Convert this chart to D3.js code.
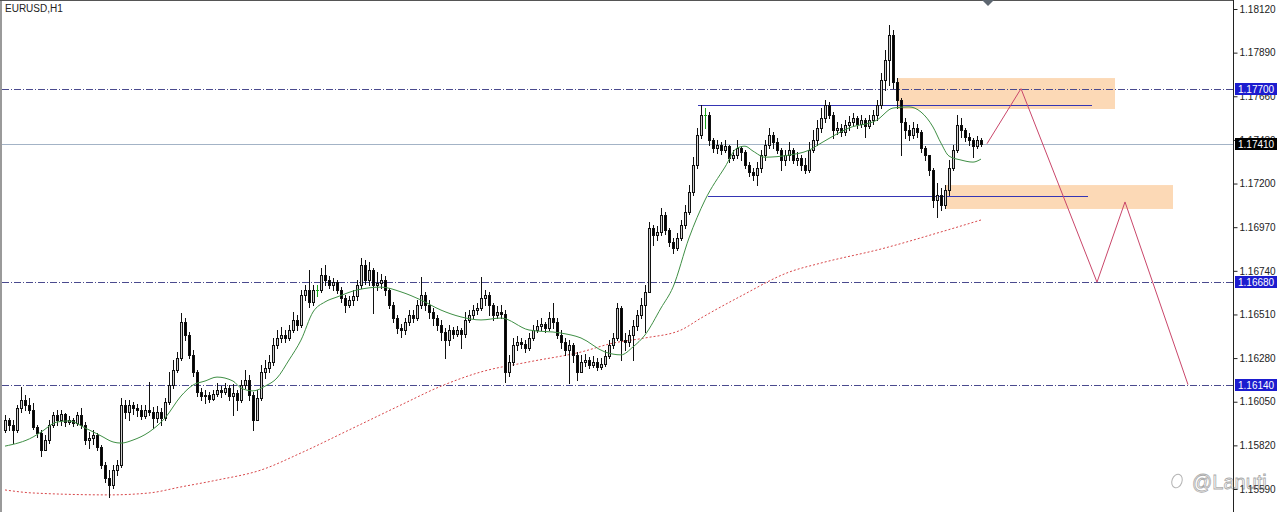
<!DOCTYPE html>
<html>
<head>
<meta charset="utf-8">
<script src="https://cdn.jsdelivr.net/npm/d3@7"></script>
<style>
  body { margin: 0; background: #fff; }
  svg { display: block; font-family: "Liberation Sans", Arial, sans-serif; }
</style>
</head>
<body>
<div id="chart"></div>
<script>
// EURUSD H1 candles, open of each bar = close of the previous one
const firstOpen = 1.15901;

const closes = [
  1.15954, 1.15928, 1.15901, 1.16017, 1.16059, 1.16033, 1.16006, 1.15917, 1.15885, 1.15796,
  1.15848, 1.15928, 1.15980, 1.15954, 1.15985, 1.15943, 1.15954, 1.15938, 1.15980, 1.15928,
  1.15848, 1.15859, 1.15875, 1.15811, 1.15717, 1.15648, 1.15611, 1.15690, 1.15717, 1.16033,
  1.15996, 1.16033, 1.16017, 1.16006, 1.15974, 1.16006, 1.15996, 1.15964, 1.15996, 1.15964,
  1.16048, 1.16138, 1.16217, 1.16281, 1.16470, 1.16402, 1.16297, 1.16207, 1.16101, 1.16080,
  1.16086, 1.16065, 1.16091, 1.16112, 1.16101, 1.16122, 1.16080, 1.16096, 1.16059, 1.16138,
  1.16164, 1.16086, 1.15954, 1.16070, 1.16207, 1.16228, 1.16260, 1.16349, 1.16386, 1.16402,
  1.16386, 1.16428, 1.16481, 1.16455, 1.16613, 1.16639, 1.16576, 1.16639, 1.16639, 1.16718,
  1.16691, 1.16665, 1.16681, 1.16639, 1.16597, 1.16560, 1.16586, 1.16607, 1.16665, 1.16771,
  1.16691, 1.16744, 1.16665, 1.16675, 1.16691, 1.16639, 1.16560, 1.16491, 1.16439, 1.16428,
  1.16470, 1.16507, 1.16491, 1.16560, 1.16613, 1.16560, 1.16523, 1.16491, 1.16455, 1.16417,
  1.16375, 1.16428, 1.16407, 1.16428, 1.16407, 1.16481, 1.16507, 1.16533, 1.16544, 1.16597,
  1.16613, 1.16560, 1.16507, 1.16523, 1.16512, 1.16207, 1.16260, 1.16349, 1.16365, 1.16354,
  1.16333, 1.16386, 1.16428, 1.16449, 1.16460, 1.16439, 1.16491, 1.16470, 1.16402, 1.16365,
  1.16323, 1.16349, 1.16297, 1.16207, 1.16260, 1.16270, 1.16244, 1.16260, 1.16233, 1.16249,
  1.16291, 1.16349, 1.16386, 1.16544, 1.16375, 1.16365, 1.16402, 1.16449, 1.16507, 1.16560,
  1.16629, 1.16966, 1.16929, 1.16944, 1.17034, 1.16955, 1.16892, 1.16860, 1.16913, 1.16982,
  1.17050, 1.17155, 1.17297, 1.17455, 1.17561, 1.17561, 1.17429, 1.17387, 1.17403, 1.17376,
  1.17397, 1.17334, 1.17350, 1.17387, 1.17366, 1.17297, 1.17260, 1.17245, 1.17282, 1.17350,
  1.17403, 1.17455, 1.17418, 1.17376, 1.17324, 1.17350, 1.17376, 1.17324, 1.17334, 1.17297,
  1.17271, 1.17376, 1.17429, 1.17493, 1.17545, 1.17614, 1.17561, 1.17482, 1.17493, 1.17472,
  1.17508, 1.17524, 1.17545, 1.17514, 1.17535, 1.17503, 1.17535, 1.17561, 1.17614, 1.17745,
  1.17851, 1.17983, 1.17735, 1.17640, 1.17524, 1.17482, 1.17455, 1.17493, 1.17472, 1.17387,
  1.17350, 1.17271, 1.17113, 1.17139, 1.17087, 1.17166, 1.17282, 1.17376, 1.17508, 1.17482,
  1.17445, 1.17429, 1.17397, 1.17429, 1.17410
];

const highs = [
  1.15980, 1.15964, 1.15954, 1.16033, 1.16127, 1.16086, 1.16070, 1.16043, 1.15928, 1.15901,
  1.15875, 1.15954, 1.15996, 1.16006, 1.16006, 1.15990, 1.15974, 1.15964, 1.15996, 1.16017,
  1.15943, 1.15890, 1.15901, 1.15885, 1.15822, 1.15732, 1.15690, 1.15717, 1.15743, 1.16070,
  1.16059, 1.16059, 1.16048, 1.16038, 1.16033, 1.16033, 1.16154, 1.16022, 1.16027, 1.16017,
  1.16070, 1.16207, 1.16270, 1.16312, 1.16517, 1.16491, 1.16417, 1.16323, 1.16217, 1.16122,
  1.16112, 1.16101, 1.16112, 1.16148, 1.16132, 1.16148, 1.16138, 1.16143, 1.16112, 1.16164,
  1.16217, 1.16191, 1.16101, 1.16112, 1.16244, 1.16270, 1.16297, 1.16386, 1.16428, 1.16444,
  1.16428, 1.16455, 1.16523, 1.16507, 1.16639, 1.16665, 1.16744, 1.16665, 1.16665, 1.16755,
  1.16771, 1.16712, 1.16702, 1.16691, 1.16654, 1.16613, 1.16607, 1.16639, 1.16691, 1.16808,
  1.16797, 1.16786, 1.16755, 1.16733, 1.16723, 1.16712, 1.16649, 1.16576, 1.16507, 1.16460,
  1.16491, 1.16533, 1.16533, 1.16586, 1.16707, 1.16629, 1.16586, 1.16544, 1.16507, 1.16481,
  1.16439, 1.16455, 1.16444, 1.16449, 1.16439, 1.16523, 1.16533, 1.16560, 1.16570, 1.16707,
  1.16639, 1.16629, 1.16570, 1.16554, 1.16560, 1.16533, 1.16297, 1.16386, 1.16396, 1.16386,
  1.16375, 1.16412, 1.16455, 1.16481, 1.16491, 1.16470, 1.16523, 1.16570, 1.16491, 1.16428,
  1.16386, 1.16375, 1.16359, 1.16312, 1.16297, 1.16302, 1.16286, 1.16291, 1.16281, 1.16281,
  1.16323, 1.16375, 1.16412, 1.16570, 1.16554, 1.16412, 1.16428, 1.16481, 1.16533, 1.16597,
  1.16665, 1.16997, 1.16982, 1.16976, 1.17071, 1.17050, 1.16966, 1.16913, 1.16939, 1.17008,
  1.17087, 1.17192, 1.17339, 1.17493, 1.17614, 1.17598, 1.17577, 1.17440, 1.17429, 1.17418,
  1.17429, 1.17403, 1.17376, 1.17429, 1.17397, 1.17376, 1.17313, 1.17282, 1.17313, 1.17376,
  1.17429, 1.17493, 1.17472, 1.17440, 1.17387, 1.17376, 1.17418, 1.17387, 1.17366, 1.17350,
  1.17334, 1.17418, 1.17482, 1.17535, 1.17598, 1.17640, 1.17630, 1.17577, 1.17524, 1.17514,
  1.17535, 1.17555, 1.17571, 1.17555, 1.17561, 1.17545, 1.17561, 1.17587, 1.17640, 1.17782,
  1.17904, 1.18036, 1.18009, 1.17756, 1.17651, 1.17545, 1.17508, 1.17524, 1.17514, 1.17482,
  1.17397, 1.17350, 1.17282, 1.17202, 1.17176, 1.17192, 1.17324, 1.17403, 1.17561, 1.17545,
  1.17493, 1.17466, 1.17440, 1.17450, 1.17440
];

const lows = [
  1.15890, 1.15901, 1.15832, 1.15890, 1.15996, 1.16006, 1.15990, 1.15907, 1.15864, 1.15764,
  1.15811, 1.15832, 1.15917, 1.15928, 1.15928, 1.15922, 1.15933, 1.15922, 1.15928, 1.15912,
  1.15827, 1.15806, 1.15827, 1.15796, 1.15701, 1.15627, 1.15548, 1.15595, 1.15664, 1.15706,
  1.15964, 1.15954, 1.15985, 1.15974, 1.15959, 1.15964, 1.15980, 1.15912, 1.15943, 1.15928,
  1.15954, 1.16038, 1.16122, 1.16207, 1.16270, 1.16375, 1.16281, 1.16185, 1.16080, 1.16059,
  1.16043, 1.16048, 1.16059, 1.16080, 1.16075, 1.16091, 1.16059, 1.15980, 1.16006, 1.16048,
  1.16122, 1.16059, 1.15901, 1.15954, 1.16059, 1.16175, 1.16207, 1.16244, 1.16333, 1.16365,
  1.16365, 1.16375, 1.16417, 1.16428, 1.16444, 1.16586, 1.16549, 1.16560, 1.16607, 1.16629,
  1.16665, 1.16649, 1.16639, 1.16623, 1.16576, 1.16523, 1.16549, 1.16560, 1.16586, 1.16649,
  1.16670, 1.16665, 1.16517, 1.16639, 1.16649, 1.16613, 1.16544, 1.16470, 1.16412, 1.16391,
  1.16407, 1.16455, 1.16470, 1.16481, 1.16544, 1.16533, 1.16491, 1.16455, 1.16428, 1.16375,
  1.16281, 1.16349, 1.16386, 1.16396, 1.16333, 1.16391, 1.16470, 1.16491, 1.16512, 1.16533,
  1.16560, 1.16507, 1.16481, 1.16491, 1.16491, 1.16154, 1.16185, 1.16244, 1.16323, 1.16333,
  1.16312, 1.16323, 1.16375, 1.16417, 1.16428, 1.16417, 1.16428, 1.16439, 1.16386, 1.16333,
  1.16297, 1.16148, 1.16260, 1.16164, 1.16217, 1.16238, 1.16228, 1.16233, 1.16217, 1.16223,
  1.16238, 1.16281, 1.16333, 1.16375, 1.16270, 1.16323, 1.16343, 1.16270, 1.16428, 1.16491,
  1.16417, 1.16639, 1.16876, 1.16902, 1.16929, 1.16934, 1.16870, 1.16834, 1.16850, 1.16902,
  1.16966, 1.17039, 1.17139, 1.17282, 1.17440, 1.17493, 1.17403, 1.17366, 1.17360, 1.17355,
  1.17366, 1.17313, 1.17324, 1.17334, 1.17324, 1.17282, 1.17239, 1.17218, 1.17192, 1.17260,
  1.17324, 1.17387, 1.17387, 1.17360, 1.17271, 1.17297, 1.17324, 1.17308, 1.17297, 1.17271,
  1.17255, 1.17260, 1.17366, 1.17403, 1.17472, 1.17524, 1.17545, 1.17440, 1.17461, 1.17450,
  1.17455, 1.17482, 1.17508, 1.17493, 1.17498, 1.17445, 1.17493, 1.17514, 1.17535, 1.17598,
  1.17693, 1.17719, 1.17703, 1.17598, 1.17350, 1.17440, 1.17429, 1.17440, 1.17445, 1.17366,
  1.17324, 1.17245, 1.17076, 1.17023, 1.17060, 1.17071, 1.17139, 1.17271, 1.17366, 1.17445,
  1.17424, 1.17403, 1.17339, 1.17387, 1.17397
];

// moving averages (bar index, price)
const fastMaIdx = [0, 7, 9, 13, 16, 20, 24, 27, 29, 32, 36, 40, 44, 47, 50, 53, 57, 59, 62, 65,
  68, 71, 74, 77, 80, 83, 88, 94, 99, 104, 109, 114, 119, 124, 131, 139, 144, 150, 154, 157,
  160, 164, 167, 171, 175, 180, 183, 185, 187, 190, 196, 201, 204, 211, 218, 222, 226, 229, 232, 234,
  236, 239, 242, 244];
const fastMaVal = [1.15816, 1.15864, 1.15890, 1.15943, 1.15949, 1.15912, 1.15870, 1.15838, 1.15832, 1.15848,
  1.15890, 1.15964, 1.16080, 1.16138, 1.16159, 1.16180, 1.16159, 1.16122, 1.16107, 1.16132,
  1.16175, 1.16270, 1.16375, 1.16523, 1.16576, 1.16602, 1.16639, 1.16654, 1.16629, 1.16586,
  1.16533, 1.16497, 1.16481, 1.16491, 1.16428, 1.16412, 1.16386, 1.16312, 1.16297, 1.16339,
  1.16402, 1.16544, 1.16654, 1.16913, 1.17113, 1.17287, 1.17387, 1.17397, 1.17371, 1.17339,
  1.17350, 1.17376, 1.17413, 1.17493, 1.17535, 1.17598, 1.17604, 1.17577, 1.17498, 1.17413,
  1.17345, 1.17324, 1.17313, 1.17329];

const slowMaIdx = [0, 7, 26, 36, 44, 53, 64, 74, 86, 99, 109, 119, 131, 144, 152, 160, 169, 174,
  184, 196, 204, 219, 234, 244];
const slowMaVal = [1.15585, 1.15569, 1.15559, 1.15569, 1.15601, 1.15637, 1.15690, 1.15780, 1.15901, 1.16033,
  1.16132, 1.16207, 1.16260, 1.16312, 1.16359, 1.16386, 1.16428, 1.16491, 1.16607, 1.16733,
  1.16781, 1.16855, 1.16945, 1.17008];

const priceTicks = [1.18120, 1.17890, 1.17660, 1.17430, 1.17200, 1.16970, 1.16740, 1.16510,
  1.16280, 1.16050, 1.15820, 1.15590];

const levels = [1.17700, 1.16680, 1.16140];
const lastPrice = 1.17410;

// drawn objects on the chart, in bar index and price
const zoneFrom = [223, 235];
const zoneTo = [277.5, 292];
const zoneTop = [1.17756, 1.17192];
const zoneBottom = [1.17593, 1.17066];

const trendFrom = [173.25, 175.75];
const trendTo = [271.75, 270.75];
const trendPrice = [1.17614, 1.17136];

const pathIdx = [245.5, 254, 273, 280, 295.75];
const pathVal = [1.17410, 1.17700, 1.16680, 1.17103, 1.16140];

const WIDTH = 1280,
    HEIGHT = 512,
    axisX = 1233;

const svg = d3.select("#chart")
    .append("svg")
    .attr("width", WIDTH)
    .attr("height", HEIGHT);

const x = d3.scaleLinear()
    .domain([0, closes.length - 1])
    .range([5, 981]);

const y = d3.scaleLinear()
    .domain([1.15590, 1.18120])
    .range([489, 9]);

const py = (v) => Math.round(y(v)) + 0.5;

svg.append("rect")
    .attr("width", WIDTH)
    .attr("height", HEIGHT)
    .attr("fill", "#fff");

// frame
svg.append("rect")
    .attr("x", 0).attr("y", 0)
    .attr("width", 2).attr("height", HEIGHT)
    .attr("fill", "#9a9a9a");
svg.append("line")
    .attr("x1", 0).attr("x2", axisX)
    .attr("y1", 0.5).attr("y2", 0.5)
    .attr("stroke", "#555");

// zones
svg.append("g")
    .selectAll("rect")
    .data(zoneFrom)
    .join("rect")
    .attr("x", (d) => x(d))
    .attr("width", (d, i) => x(zoneTo[i]) - x(d))
    .attr("y", (d, i) => y(zoneTop[i]))
    .attr("height", (d, i) => y(zoneBottom[i]) - y(zoneTop[i]))
    .attr("fill", "#fcd9b6");

// horizontal levels
svg.append("g")
    .selectAll("line")
    .data(levels)
    .join("line")
    .attr("x1", 2).attr("x2", axisX)
    .attr("y1", py).attr("y2", py)
    .attr("stroke", "#4a4a8e")
    .attr("stroke-dasharray", "7,2,1,2");

svg.append("line")
    .attr("x1", 2).attr("x2", axisX)
    .attr("y1", py(lastPrice)).attr("y2", py(lastPrice))
    .attr("stroke", "#a3b3c6");

// trend lines
svg.append("g")
    .selectAll("line")
    .data(trendFrom)
    .join("line")
    .attr("x1", (d) => x(d))
    .attr("x2", (d, i) => x(trendTo[i]))
    .attr("y1", (d, i) => py(trendPrice[i]))
    .attr("y2", (d, i) => py(trendPrice[i]))
    .attr("stroke", "#3535b4");

// moving averages
const slowLine = d3.line()
    .curve(d3.curveMonotoneX)
    .x((d) => x(d))
    .y((d, i) => y(slowMaVal[i]));

svg.append("path")
    .attr("d", slowLine(slowMaIdx))
    .attr("fill", "none")
    .attr("stroke", "#d8474a")
    .attr("stroke-dasharray", "2,2");

// candles
const candles = closes.map((c, i) => {
    const open = i === 0 ? firstOpen : closes[i - 1];
    return {
        i,
        open,
        close: c,
        high: Math.max(highs[i], open, c),
        low: Math.min(lows[i], open, c)
    };
});

const bars = svg.append("g")
    .selectAll("g")
    .data(candles)
    .join("g");

bars.append("line")
    .attr("x1", (d) => Math.round(x(d.i)) + 0.5)
    .attr("x2", (d) => Math.round(x(d.i)) + 0.5)
    .attr("y1", (d) => Math.round(y(d.high)))
    .attr("y2", (d) => Math.round(y(d.low)) + 1)
    .attr("stroke", (d) => d.open === d.close ? "#1aa31a" : "#111");

bars.filter((d) => d.open !== d.close)
    .append("rect")
    .attr("x", (d) => Math.round(x(d.i)) - 0.5)
    .attr("width", 2)
    .attr("y", (d) => Math.round(y(Math.max(d.open, d.close))) + 0.5)
    .attr("height", (d) => Math.max(1, Math.round(y(Math.min(d.open, d.close))) - Math.round(y(Math.max(d.open, d.close)))))
    .attr("fill", (d) => d.close > d.open ? "#cfcfcf" : "#000")
    .attr("stroke", "#111");

bars.filter((d) => d.open === d.close)
    .append("line")
    .attr("x1", (d) => Math.round(x(d.i)) - 1)
    .attr("x2", (d) => Math.round(x(d.i)) + 2)
    .attr("y1", (d) => py(d.close))
    .attr("y2", (d) => py(d.close))
    .attr("stroke", "#1aa31a");

const fastLine = d3.line()
    .curve(d3.curveMonotoneX)
    .x((d) => x(d))
    .y((d, i) => y(fastMaVal[i]));

svg.append("path")
    .attr("d", fastLine(fastMaIdx))
    .attr("fill", "none")
    .attr("stroke", "#3f8f45")
    .attr("stroke-width", 1);

// projected move
const projLine = d3.line()
    .x((d) => x(d))
    .y((d, i) => y(pathVal[i]));

svg.append("path")
    .attr("d", projLine(pathIdx))
    .attr("fill", "none")
    .attr("stroke", "#c9466a")
    .attr("stroke-width", 1);

// shift marker at the top
const shiftX = x(245.75);
svg.append("path")
    .attr("d", `M${shiftX - 6},0 L${shiftX + 6},0 L${shiftX},6 Z`)
    .attr("fill", "#5d6670");

svg.append("text")
    .attr("x", 5)
    .attr("y", 12)
    .attr("font-size", 10)
    .attr("fill", "#222")
    .text("EURUSD,H1");

// price axis
svg.append("rect")
    .attr("x", axisX + 1).attr("y", 0)
    .attr("width", WIDTH - axisX).attr("height", HEIGHT)
    .attr("fill", "#fff");

const yAxis = svg.append("g")
    .attr("transform", `translate(${axisX + 0.5}, 0)`)
    .call(d3.axisRight(y)
        .tickValues(priceTicks)
        .tickSize(4)
        .tickPadding(2)
        .tickFormat(d3.format(".5f")));

yAxis.select(".domain").remove();
yAxis.selectAll("text")
    .attr("font-family", "Liberation Sans, Arial, sans-serif")
    .attr("font-size", 10)
    .attr("fill", "#222");
yAxis.selectAll("line").attr("stroke", "#222");

svg.append("line")
    .attr("x1", axisX + 0.5).attr("x2", axisX + 0.5)
    .attr("y1", 0).attr("y2", HEIGHT)
    .attr("stroke", "#222");

// price labels on the axis
const tags = levels.map((v) => ({ v, fill: "#1c1ccf" }))
    .concat([{ v: lastPrice, fill: "#000" }]);

const tagG = svg.append("g")
    .selectAll("g")
    .data(tags)
    .join("g")
    .attr("transform", (d) => `translate(${axisX + 2}, ${Math.round(y(d.v))})`);

tagG.append("rect")
    .attr("x", 0).attr("y", -6)
    .attr("width", 42).attr("height", 12)
    .attr("fill", (d) => d.fill);

tagG.append("text")
    .attr("x", 3).attr("y", 4)
    .attr("font-size", 10)
    .attr("fill", "#fff")
    .text((d) => d3.format(".5f")(d.v));

// watermark
const mark = svg.append("g").attr("opacity", 0.55);
mark.append("ellipse")
    .attr("cx", 1177).attr("cy", 481)
    .attr("rx", 5).attr("ry", 7)
    .attr("fill", "none")
    .attr("stroke", "#777")
    .attr("transform", "rotate(20 1177 481)");
mark.append("text")
    .attr("x", 1192)
    .attr("y", 489)
    .attr("font-size", 20)
    .attr("fill", "none")
    .attr("stroke", "#666")
    .attr("stroke-width", 0.8)
    .text("@Lanuti");
</script>
</body>
</html>
